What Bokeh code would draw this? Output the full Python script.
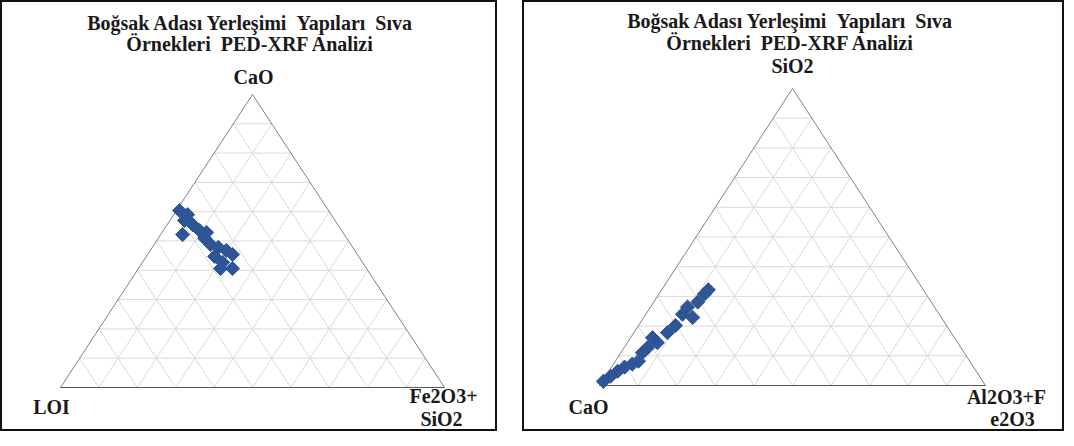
from bokeh.plotting import figure
from bokeh.models import Range1d
from bokeh.layouts import row
from bokeh.core.properties import value
from bokeh.embed import file_html
from bokeh.resources import INLINE

# ---------------- data ----------------
NB = "\u00a0"
title_lines = ["Boğsak Adası Yerleşimi " + NB + "Yapıları " + NB + "Sıva",
               "Örnekleri " + NB + "PED-XRF Analizi"]

# Left ternary: CaO (top), LOI (bottom-left), Fe2O3+SiO2 (bottom-right), in %
left_cao = [60.4, 59.0, 57.0, 55.6, 52.2, 53.6, 50.9, 48.8, 47.8, 46.8, 45.4, 44.7, 42.7, 40.6, 40.6, 52.9]
left_loi = [38.8, 37.4, 39.2, 37.8, 42.1, 37.0, 37.0, 36.5, 35.0, 33.4, 32.5, 37.5, 36.4, 34.9, 38.0, 35.5]
left_fesi = [0.8, 3.6, 3.8, 6.6, 5.7, 9.4, 12.1, 14.7, 17.2, 19.8, 22.1, 17.8, 20.9, 24.5, 21.4, 11.6]

# Right ternary: SiO2 (top), CaO (bottom-left), Al2O3+Fe2O3 (bottom-right), in %
right_sio2 = [1.4, 3.1, 4.8, 6.2, 7.2, 8.2, 11.0, 12.7, 14.4, 16.1, 17.8, 20.2, 22.9, 24.0, 26.4, 28.1, 30.8, 32.2]
right_cao = [98.3, 95.6, 92.9, 90.4, 87.9, 85.8, 83.4, 81.2, 77.8, 78.2, 73.5, 70.2, 64.4, 66.5, 64.0, 60.5, 57.4, 55.7]
right_alfe = [0.3, 1.3, 2.3, 3.4, 4.9, 6.0, 5.6, 6.1, 7.8, 5.7, 8.7, 9.6, 12.7, 9.5, 9.6, 11.4, 11.8, 12.1]

left_labels = {"top": ["CaO"], "left": ["LOI"], "right": ["Fe2O3+", "SiO2"]}
right_labels = {"top": ["SiO2"], "left": ["CaO"], "right": ["Al2O3+F", "e2O3"]}

MARKER = "#2F5597"
GRID = "#D9D9D9"
EDGE = "#808080"
FONT = value("Liberation Serif")


def ternary_xy(top, left, right):
    xs, ys = [], []
    for t, l, r in zip(top, left, right):
        s = t + l + r
        tt, rr = t / s, r / s
        xs.append(rr + tt / 2.0)
        ys.append(tt)
    return xs, ys


def make_panel(W, H, bx0, bx1, by, ay, top, left, right, labels, pos):
    # pixel geometry (canvas coords from top-left) -> data ranges
    ux = bx1 - bx0
    uy = by - ay
    xr = Range1d(-bx0 / ux, (W - bx0) / ux)
    yr = Range1d(-(H - by) / uy, 1 + ay / uy)
    p = figure(width=W, height=H, x_range=xr, y_range=yr, toolbar_location=None,
               output_backend="svg", min_border=0, outline_line_color="#111111",
               outline_line_width=3, background_fill_color="white",
               border_fill_color="white")
    p.axis.visible = False
    p.grid.visible = False

    def dx(px):
        return (px - bx0) / ux

    def dy(py):
        return (by - py) / uy

    # grid lines
    gx, gy = [], []
    for i in range(1, 10):
        f = i / 10.0
        gx.append([f / 2, 1 - f / 2]); gy.append([f, f])
        gx.append([f, f + (1 - f) / 2]); gy.append([0, 1 - f])
        gx.append([1 - f, (1 - f) / 2]); gy.append([0, 1 - f])
    p.multi_line(gx, gy, line_color=GRID, line_width=1)
    # triangle edges
    p.line([0, 0.5, 1], [0, 1, 0], line_color=EDGE, line_width=1)
    p.line([0, 1], [0, 0], line_color="#595959", line_width=1.2)

    xs, ys = ternary_xy(top, left, right)
    p.scatter(xs, ys, marker="square", size=10, angle=0.785398,
              fill_color=MARKER, line_color=MARKER)

    def txt(px, py, s, align="center", size="20px"):
        p.text([dx(px)], [dy(py)], text=[s], text_font=FONT, text_font_style="bold",
               text_font_size=size, text_align=align, text_baseline="middle",
               text_color="#1a1a1a")

    t1, t2, ttop, tl, tr1, tr2 = pos
    txt(t1[0], t1[1], title_lines[0])
    txt(t2[0], t2[1], title_lines[1])
    txt(ttop[0], ttop[1], labels["top"][0])
    txt(tl[0], tl[1], labels["left"][0])
    txt(tr1[0], tr1[1], labels["right"][0])
    txt(tr2[0], tr2[1], labels["right"][1])
    return p


H = 431
# left panel: page x 8..505 ; canvas coords = page - 8
p1 = make_panel(497, H, 60, 444, 387, 94, left_cao, left_loi, left_fesi, left_labels,
                [(250, 22), (250, 43), (253, 76), (51, 406), (443, 395), (441, 418)])
# right panel: page x 530..1072
p2 = make_panel(542, H, 77, 463, 385, 88, right_sio2, right_cao, right_alfe, right_labels,
                [(268, 20), (268, 42), (270, 65), (66, 406), (484, 396), (490, 418)])

layout = row(p1, p2, spacing=25)
open("out.html", "w").write(file_html(layout, INLINE))
